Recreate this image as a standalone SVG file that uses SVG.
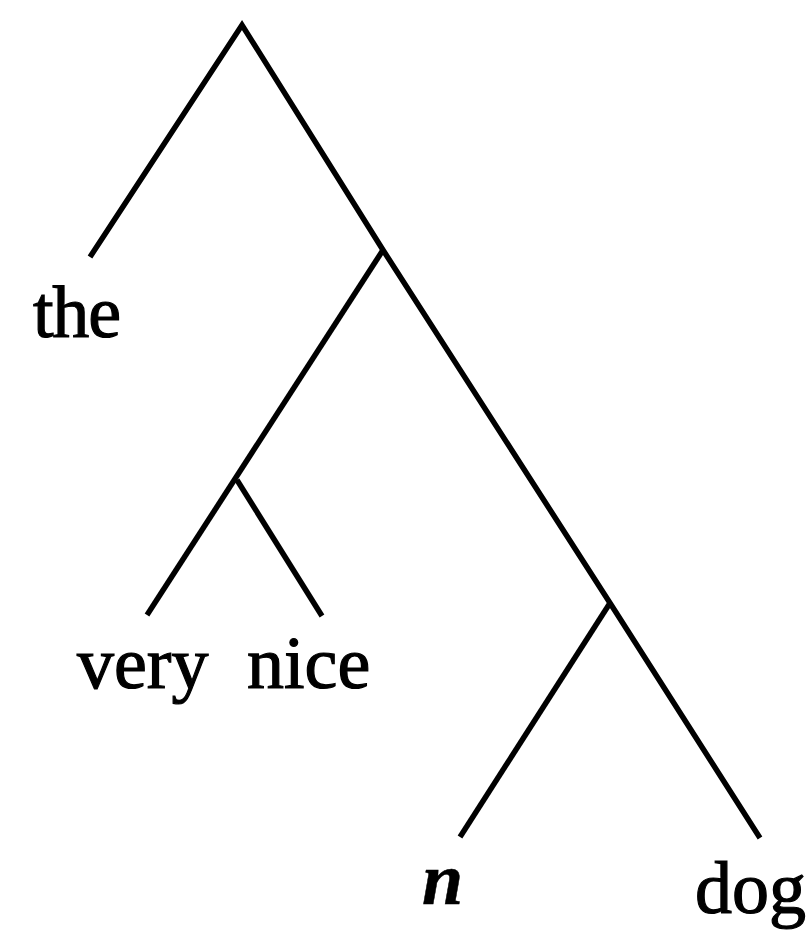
<svg xmlns="http://www.w3.org/2000/svg" width="806" height="930" viewBox="0 0 806 930">
<style>
.e{stroke:#000;stroke-width:5.5;fill:none;stroke-linejoin:miter}
.t{font-family:"Liberation Serif","Times New Roman",serif;font-size:74px;fill:#000;stroke:#000;stroke-width:1.2}
.i{font-style:italic;font-weight:bold;stroke-width:0.5}
</style>
<rect width="806" height="930" fill="#fff"/>
<g id="connectors">
<polyline class="e" points="90,257 242,25 383,250 610,603 760,838"/>
<line class="e" x1="383" y1="250" x2="147" y2="615"/>
<line class="e" x1="237" y1="480" x2="322" y2="616"/>
<line class="e" x1="610" y1="603" x2="460" y2="837"/>
</g>
<g id="the"><text class="t" x="33" y="337" textLength="88">the</text></g>
<g id="very"><text class="t" x="77" y="688">very</text></g>
<g id="nice"><text class="t" x="247" y="688">nice</text></g>
<g id="n"><text class="t i" x="422" y="904">n</text></g>
<g id="dog"><text class="t" x="695" y="913">dog</text></g>
</svg>
